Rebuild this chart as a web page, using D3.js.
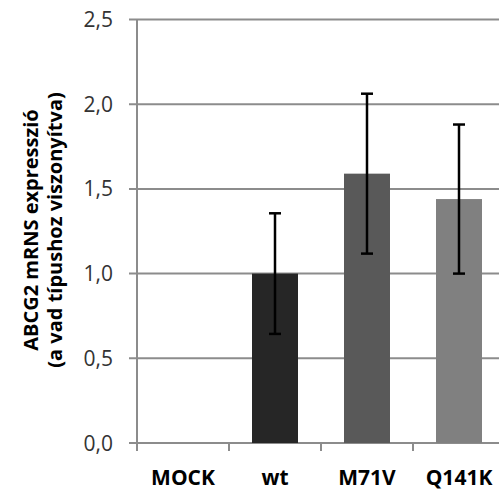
<!DOCTYPE html>
<html>
<head>
<meta charset="utf-8">
<script src="https://cdn.jsdelivr.net/npm/d3@7"></script>
<style>
  body { margin: 0; background: #fff; }
  svg { display: block; font-family: "Open Sans", "DejaVu Sans", sans-serif; }
</style>
</head>
<body>
<script>
// data
const categories = ["MOCK", "wt", "M71V", "Q141K"];
const values = [0, 1.0, 1.59, 1.44];
const errors = [0, 0.356, 0.472, 0.44];
const barColors = ["#ffffff", "#262626", "#595959", "#808080"];
const yTicks = [0, 0.5, 1.0, 1.5, 2.0, 2.5];

const width = 499, height = 491;
const plotLeft = 137, plotRight = 505, plotTop = 19.5, plotBottom = 443;

const svg = d3.select("body").append("svg")
  .attr("width", width)
  .attr("height", height);

const x = d3.scaleBand().domain(categories).range([plotLeft, plotRight]).paddingInner(0).paddingOuter(0);
const y = d3.scaleLinear().domain([0, 2.5]).range([plotBottom, plotTop]);

const grid = "#8c8c8c";

// gridlines
svg.append("g")
  .selectAll("line")
  .data(yTicks)
  .join("line")
  .attr("x1", plotLeft - 8)
  .attr("x2", width)
  .attr("y1", d => y(d))
  .attr("y2", d => y(d))
  .attr("stroke", grid)
  .attr("stroke-width", 2);

// y axis line
svg.append("line")
  .attr("x1", plotLeft).attr("x2", plotLeft)
  .attr("y1", y(2.5)).attr("y2", plotBottom + 8)
  .attr("stroke", grid).attr("stroke-width", 2);

// x ticks between categories
svg.append("g")
  .selectAll("line")
  .data(categories.slice(1))
  .join("line")
  .attr("x1", d => x(d)).attr("x2", d => x(d))
  .attr("y1", plotBottom).attr("y2", plotBottom + 8)
  .attr("stroke", grid).attr("stroke-width", 2);

// y tick labels
svg.append("g")
  .selectAll("text")
  .data(yTicks)
  .join("text")
  .attr("x", 113)
  .attr("y", d => y(d))
  .attr("dy", "0.36em")
  .attr("text-anchor", "end")
  .attr("font-size", 21)
  .attr("fill", "#333")
  .text(d => d3.format(".1f")(d).replace(".", ","));

// bars
const bw = x.bandwidth() * 0.5;
svg.append("g")
  .selectAll("rect")
  .data(categories)
  .join("rect")
  .attr("x", d => x(d) + (x.bandwidth() - bw) / 2)
  .attr("y", (d, i) => y(values[i]))
  .attr("width", bw)
  .attr("height", (d, i) => plotBottom - y(values[i]))
  .attr("fill", (d, i) => barColors[i]);

// error bars
const eb = svg.append("g");
categories.forEach((c, i) => {
  if (!errors[i]) return;
  const cx = x(c) + x.bandwidth() / 2;
  const hi = y(values[i] + errors[i]), lo = y(values[i] - errors[i]);
  eb.append("line").attr("x1", cx).attr("x2", cx).attr("y1", hi).attr("y2", lo)
    .attr("stroke", "#000").attr("stroke-width", 2.5);
  [hi, lo].forEach(yy => {
    eb.append("line").attr("x1", cx - 6).attr("x2", cx + 6).attr("y1", yy).attr("y2", yy)
      .attr("stroke", "#000").attr("stroke-width", 2.5);
  });
});

// category labels
svg.append("g")
  .selectAll("text")
  .data(categories)
  .join("text")
  .attr("x", d => x(d) + x.bandwidth() / 2)
  .attr("y", 477)
  .attr("dy", "0.36em")
  .attr("text-anchor", "middle")
  .attr("font-size", 21)
  .attr("font-weight", "bold")
  .attr("fill", "#000")
  .text(d => d);

// y axis title
const yt = svg.append("text")
  .attr("transform", "translate(43,230) rotate(-90)")
  .attr("text-anchor", "middle")
  .attr("font-size", 20)
  .attr("font-weight", "bold")
  .attr("fill", "#000");
yt.append("tspan").attr("x", 0).attr("y", -12).attr("dy", "0.36em").text("ABCG2 mRNS expresszió");
yt.append("tspan").attr("x", 0).attr("y", 12).attr("dy", "0.36em").text("(a vad típushoz viszonyítva)");
</script>
</body>
</html>
